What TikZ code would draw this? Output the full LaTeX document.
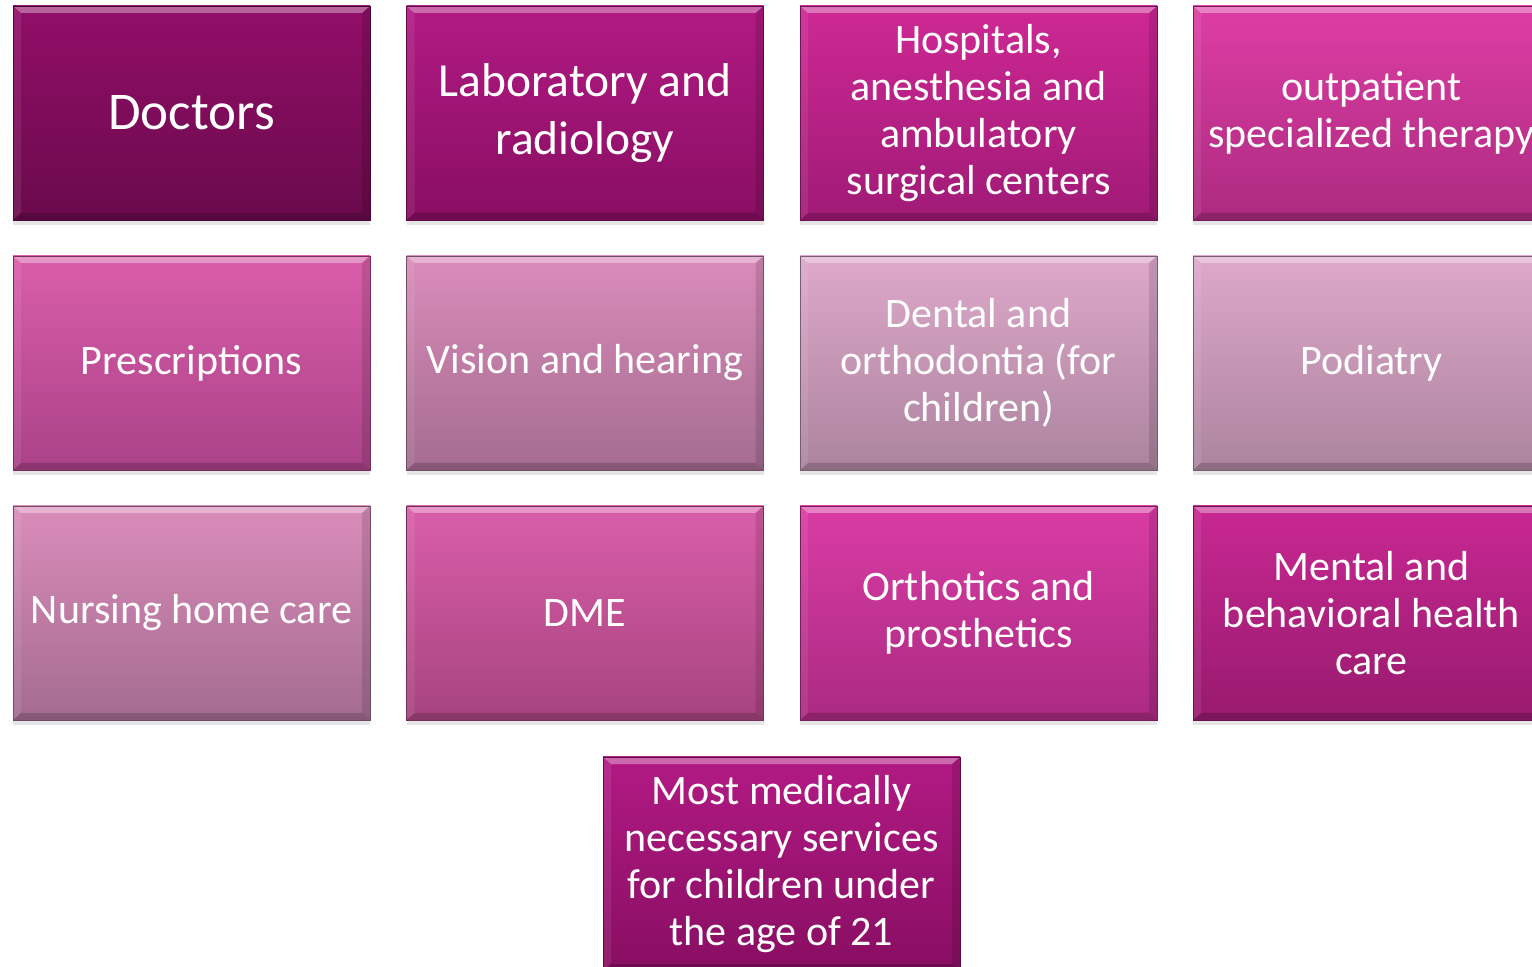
\documentclass[tikz,border=0pt]{standalone}
\usepackage{fontspec}
\setmainfont{Carlito}
\usetikzlibrary{shadows}

\definecolor{docTop}{HTML}{920E68}
\definecolor{docBot}{HTML}{6A0A4C}
\definecolor{labTop}{HTML}{B21A84}
\definecolor{labBot}{HTML}{880E62}
\definecolor{hospTop}{HTML}{CE2894}
\definecolor{hospBot}{HTML}{A01A76}
\definecolor{outTop}{HTML}{DE3EA4}
\definecolor{outBot}{HTML}{AC2A80}
\definecolor{presTop}{HTML}{DA5EAA}
\definecolor{presBot}{HTML}{AA4288}
\definecolor{visTop}{HTML}{DA8CBA}
\definecolor{visBot}{HTML}{A46C90}
\definecolor{dentTop}{HTML}{DEA8CA}
\definecolor{dentBot}{HTML}{AC849E}
\definecolor{dmeTop}{HTML}{DA5EAA}
\definecolor{dmeBot}{HTML}{A6447E}
\definecolor{orthTop}{HTML}{DA3CA4}
\definecolor{orthBot}{HTML}{AA2A82}
\definecolor{mentTop}{HTML}{C82892}
\definecolor{mentBot}{HTML}{981A6E}

\tikzset{
  service/.style 2 args={draw=#2!70!black, line width=0.4pt,
    top color=#1, bottom color=#2,
    minimum width=178.5pt, minimum height=107pt, inner sep=1pt,
    align=center, text=white, font=\fontsize{21}{23.5}\selectfont,
    drop shadow={shadow xshift=0pt, shadow yshift=-2.5pt, opacity=0.2},
    path picture={
      \fill[white,opacity=0.35] (path picture bounding box.north west) -- (path picture bounding box.north east)
        -- ([xshift=-4pt,yshift=-3.5pt]path picture bounding box.north east) -- ([xshift=4pt,yshift=-3.5pt]path picture bounding box.north west) -- cycle;
      \fill[black,opacity=0.18] (path picture bounding box.south west) -- (path picture bounding box.south east)
        -- ([xshift=-4pt,yshift=3.5pt]path picture bounding box.south east) -- ([xshift=4pt,yshift=3.5pt]path picture bounding box.south west) -- cycle;
      \fill[black,opacity=0.12] (path picture bounding box.north east) -- (path picture bounding box.south east)
        -- ([xshift=-4pt,yshift=3.5pt]path picture bounding box.south east) -- ([xshift=-4pt,yshift=-3.5pt]path picture bounding box.north east) -- cycle;
      \fill[white,opacity=0.08] (path picture bounding box.north west) -- (path picture bounding box.south west)
        -- ([xshift=4pt,yshift=3.5pt]path picture bounding box.south west) -- ([xshift=4pt,yshift=-3.5pt]path picture bounding box.north west) -- cycle;
    }}
}

\begin{document}
\begin{tikzpicture}[x=0.5pt,y=-0.5pt]
  \useasboundingbox[fill=white] (0,0) rectangle (1532,967);
  %% first row
  \node[service={docTop}{docBot}, font=\fontsize{26.5}{32}\selectfont] (doctors) at (191.5,113) {Doctors};
  \node[service={labTop}{labBot}, font=\fontsize{23.75}{29}\selectfont] (lab) at (585,113) {Laboratory and\\radiology};
  \node[service={hospTop}{hospBot}] (hospitals) at (978.5,113) {Hospitals,\\anesthesia and\\ambulatory\\surgical centers};
  \node[service={outTop}{outBot}] (outpatient) at (1371.5,113) {outpatient\\specialized therapy};
  %% second row
  \node[service={presTop}{presBot}] (prescriptions) at (191.5,363) {Prescriptions};
  \node[service={visTop}{visBot}] (vision) at (585,363) {Vision and hearing};
  \node[service={dentTop}{dentBot}] (dental) at (978.5,363) {Dental and\\orthodontia (for\\children)};
  \node[service={dentTop}{dentBot}] (podiatry) at (1371.5,363) {Podiatry};
  %% third row
  \node[service={visTop}{visBot}] (nursing) at (191.5,613) {Nursing home care};
  \node[service={dmeTop}{dmeBot}] (dme) at (585,613) {DME};
  \node[service={orthTop}{orthBot}] (orthotics) at (978.5,613) {Orthotics and\\prosthetics};
  \node[service={mentTop}{mentBot}] (mental) at (1371.5,613) {Mental and\\behavioral health\\care};
  %% last one, between the middle columns
  \node[service={labTop}{labBot}] (children) at (781.5,864) {Most medically\\necessary services\\for children under\\the age of 21};
\end{tikzpicture}
\end{document}
